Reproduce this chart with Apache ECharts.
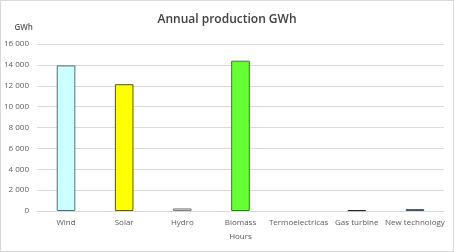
<!DOCTYPE html>
<html>
<head>
<meta charset="utf-8">
<script src="https://cdn.jsdelivr.net/npm/echarts@6/dist/echarts.min.js"></script>
<style>
  html, body { margin: 0; padding: 0; background: #fff; }
  #chart { width: 454px; height: 252px; box-sizing: border-box; border: 1px solid #d9d9d9; }
</style>
</head>
<body>
<div id="chart"></div>
<script>
// data
const categories = ["Wind", "Solar", "Hydro", "Biomass", "Termoelectricas", "Gas turbine", "New technology"];
const production = [13950, 12150, 250, 14400, 0, 80, 180];
const fillColors = ["#ccffff", "#ffff00", "#e0e0e0", "#66ff33", "#ffffff", "#404040", "#44546a"];
const borderColors = ["#4f6f78", "#595900", "#7f7f7f", "#3d7a2a", "#7f7f7f", "#262626", "#44546a"];

const chart = echarts.init(document.getElementById("chart"));

const option = {
  animation: false,
  title: {
    text: "Annual production GWh",
    left: "center",
    top: 8,
    textStyle: { fontFamily: "Open Sans", fontSize: 12, fontWeight: 600, color: "#404040" }
  },
  grid: { left: 35, right: 9, top: 43, bottom: 40 },
  xAxis: {
    type: "category",
    data: categories,
    name: "Hours",
    nameLocation: "middle",
    nameGap: 22,
    nameTextStyle: { fontFamily: "Open Sans", fontSize: 8, color: "#595959" },
    axisLine: { lineStyle: { color: "#d9d9d9" } },
    axisTick: { show: false },
    axisLabel: { fontFamily: "Open Sans", fontSize: 8, color: "#595959", margin: 8, interval: 0 }
  },
  yAxis: {
    type: "value",
    min: 0,
    max: 16000,
    interval: 2000,
    name: "GWh",
    nameLocation: "end",
    nameGap: 12,
    nameTextStyle: { fontFamily: "Open Sans", fontSize: 8, fontWeight: 600, color: "#595959", align: "right", padding: [0, 4, 0, 0] },
    axisLine: { show: false },
    axisTick: { show: false },
    splitLine: { lineStyle: { color: "#d9d9d9" } },
    axisLabel: {
      fontFamily: "Open Sans", fontSize: 8, color: "#595959", margin: 8,
      formatter: v => String(v).replace(/\B(?=(\d{3})+(?!\d))/g, " ")
    }
  },
  series: [{
    type: "bar",
    barWidth: "32%",
    data: production.map((v, i) => ({
      value: v,
      itemStyle: { color: fillColors[i], borderColor: borderColors[i], borderWidth: v > 0 ? 1 : 0 }
    }))
  }]
};

chart.setOption(option);
</script>
</body>
</html>
